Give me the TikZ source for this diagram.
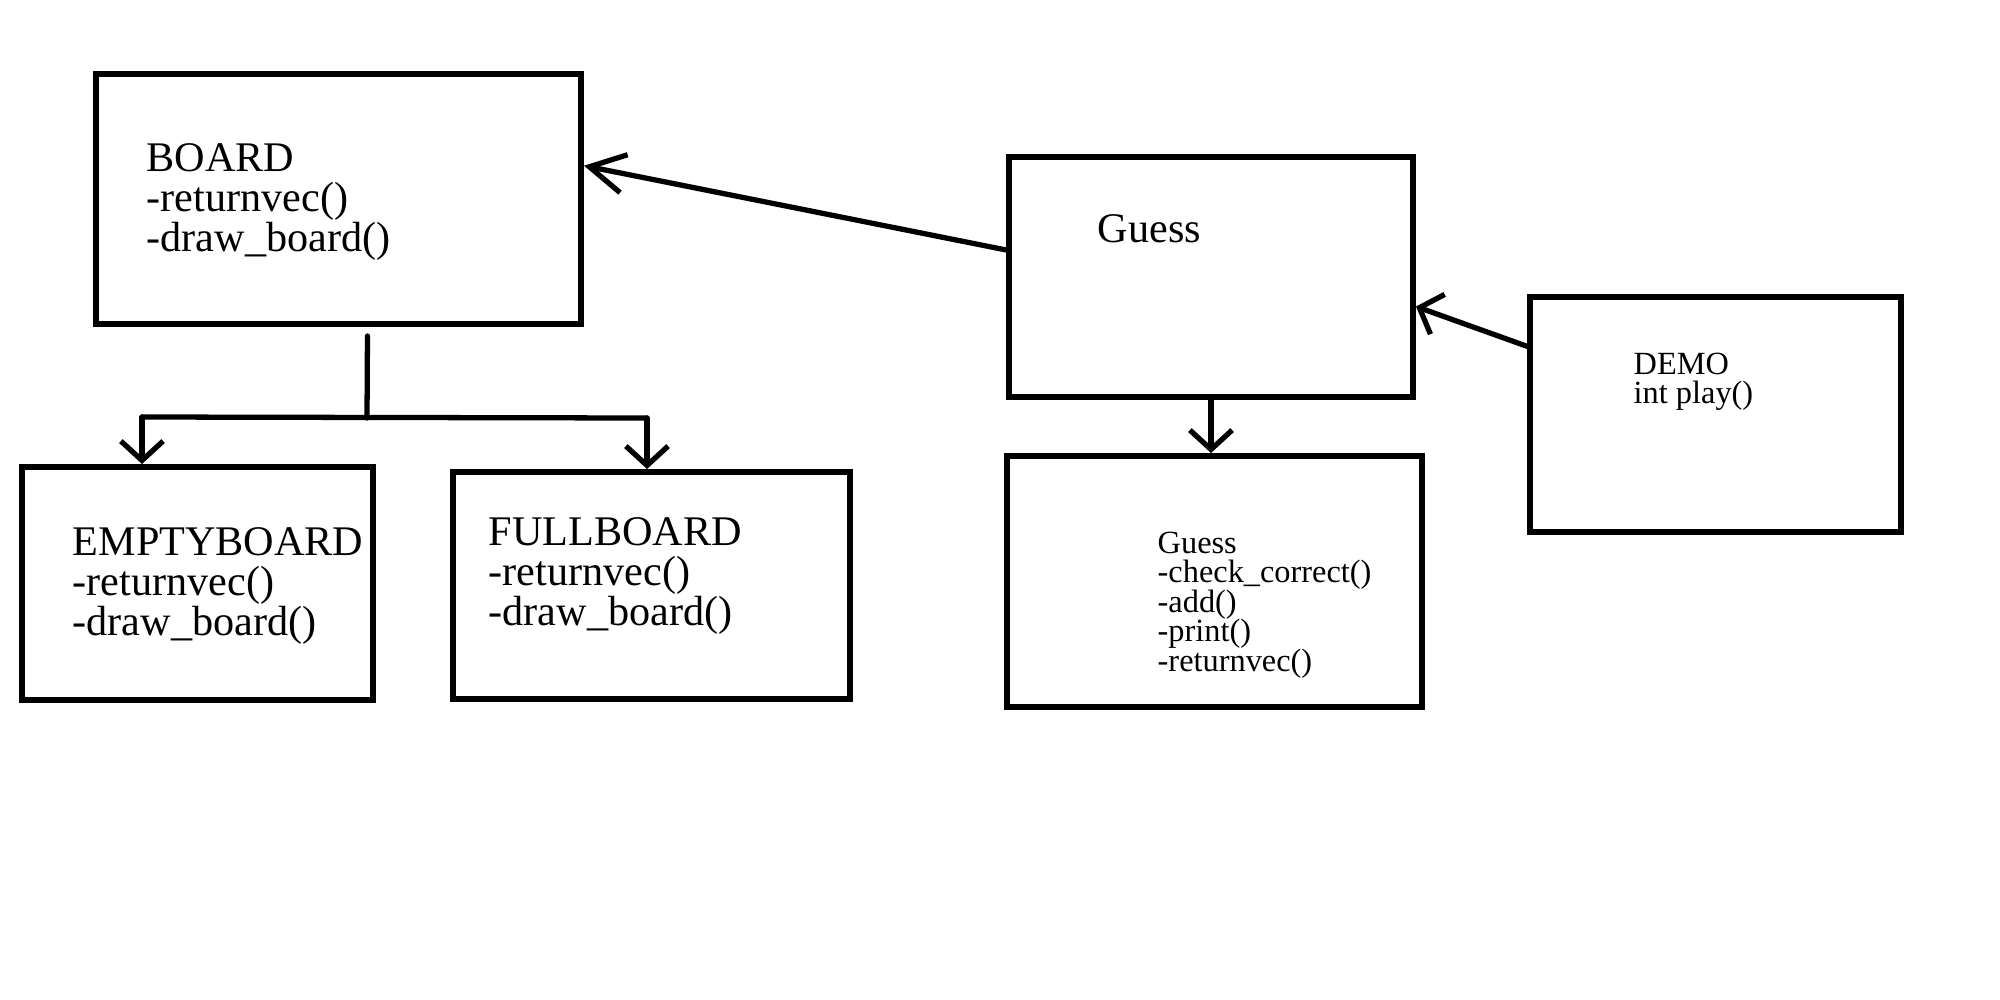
\documentclass[tikz,border=0pt]{standalone}
\usepackage{fontspec}
\setmainfont{Liberation Serif}
\usetikzlibrary{arrows.meta,fit,calc}
\begin{document}
\begin{tikzpicture}[x=0.01cm,y=-0.01cm,
  box/.style={draw,line width=1.7pt,inner sep=0pt},
  txt/.style={anchor=north west,inner sep=0pt,align=left,font=\fontsize{12}{11.4}\selectfont},
  small/.style={anchor=north west,inner sep=0pt,align=left,font=\fontsize{9.2}{8.4}\selectfont},
  conn/.style={line width=1.5pt,line cap=round},
  arr/.style={conn,-{Straight Barb[length=5.5pt,width=12pt]}},
  bigarr/.style={conn,-{Straight Barb[length=10pt,width=11pt]}}]
\useasboundingbox (0,0) rectangle (2000,1000);

% boxes
\node[box,fit={(96,74) (581,324)}] (board) {};
\node[box,fit={(22,467) (373,700)}] (empty) {};
\node[box,fit={(453,472) (850,699)}] (full) {};
\node[box,fit={(1009,157) (1413,397)}] (guess) {};
\node[box,fit={(1007,456) (1422,707)}] (guess2) {};
\node[box,fit={(1530,297) (1901,532)}] (demo) {};

% texts
\node[txt] (boardtxt) at (146,143) {BOARD\\-returnvec()\\-draw\_board()};
\node[txt] (emptytxt) at (72,527) {EMPTYBOARD\\-returnvec()\\-draw\_board()};
\node[txt] (fulltxt) at (488,517) {FULLBOARD\\-returnvec()\\-draw\_board()};
\node[txt] (guesstxt) at (1097,214) {Guess};
\node[small] (guess2txt) at (1157,531) {Guess\\-check\_correct()\\-add()\\-print()\\-returnvec()};
\node[small] (demotxt) at (1633,352) {DEMO\\int play()};

% connectors
\draw[bigarr] ($(guess.north west)!0.39!(guess.south west)$) -- ($(board.north east)!0.37!(board.south east)$);

\coordinate (split) at (367,418);
\coordinate (sl) at (142,417);
\coordinate (sr) at (647,418);
\draw[conn] ($(board.south west)!0.559!(board.south east)+(0,9)$) -- (split);
\draw[conn] (sl) -- (sr);
\draw[arr] (sl) -- (sl |- empty.north);
\draw[arr] (sr) -- (sr |- full.north);

\draw[arr] (guess.south) -- (guess.south |- guess2.north);
\draw[arr] ($(demo.north west)!0.217!(demo.south west)$) -- ($(guess.north east)!0.62!(guess.south east)$);
\end{tikzpicture}
\end{document}
